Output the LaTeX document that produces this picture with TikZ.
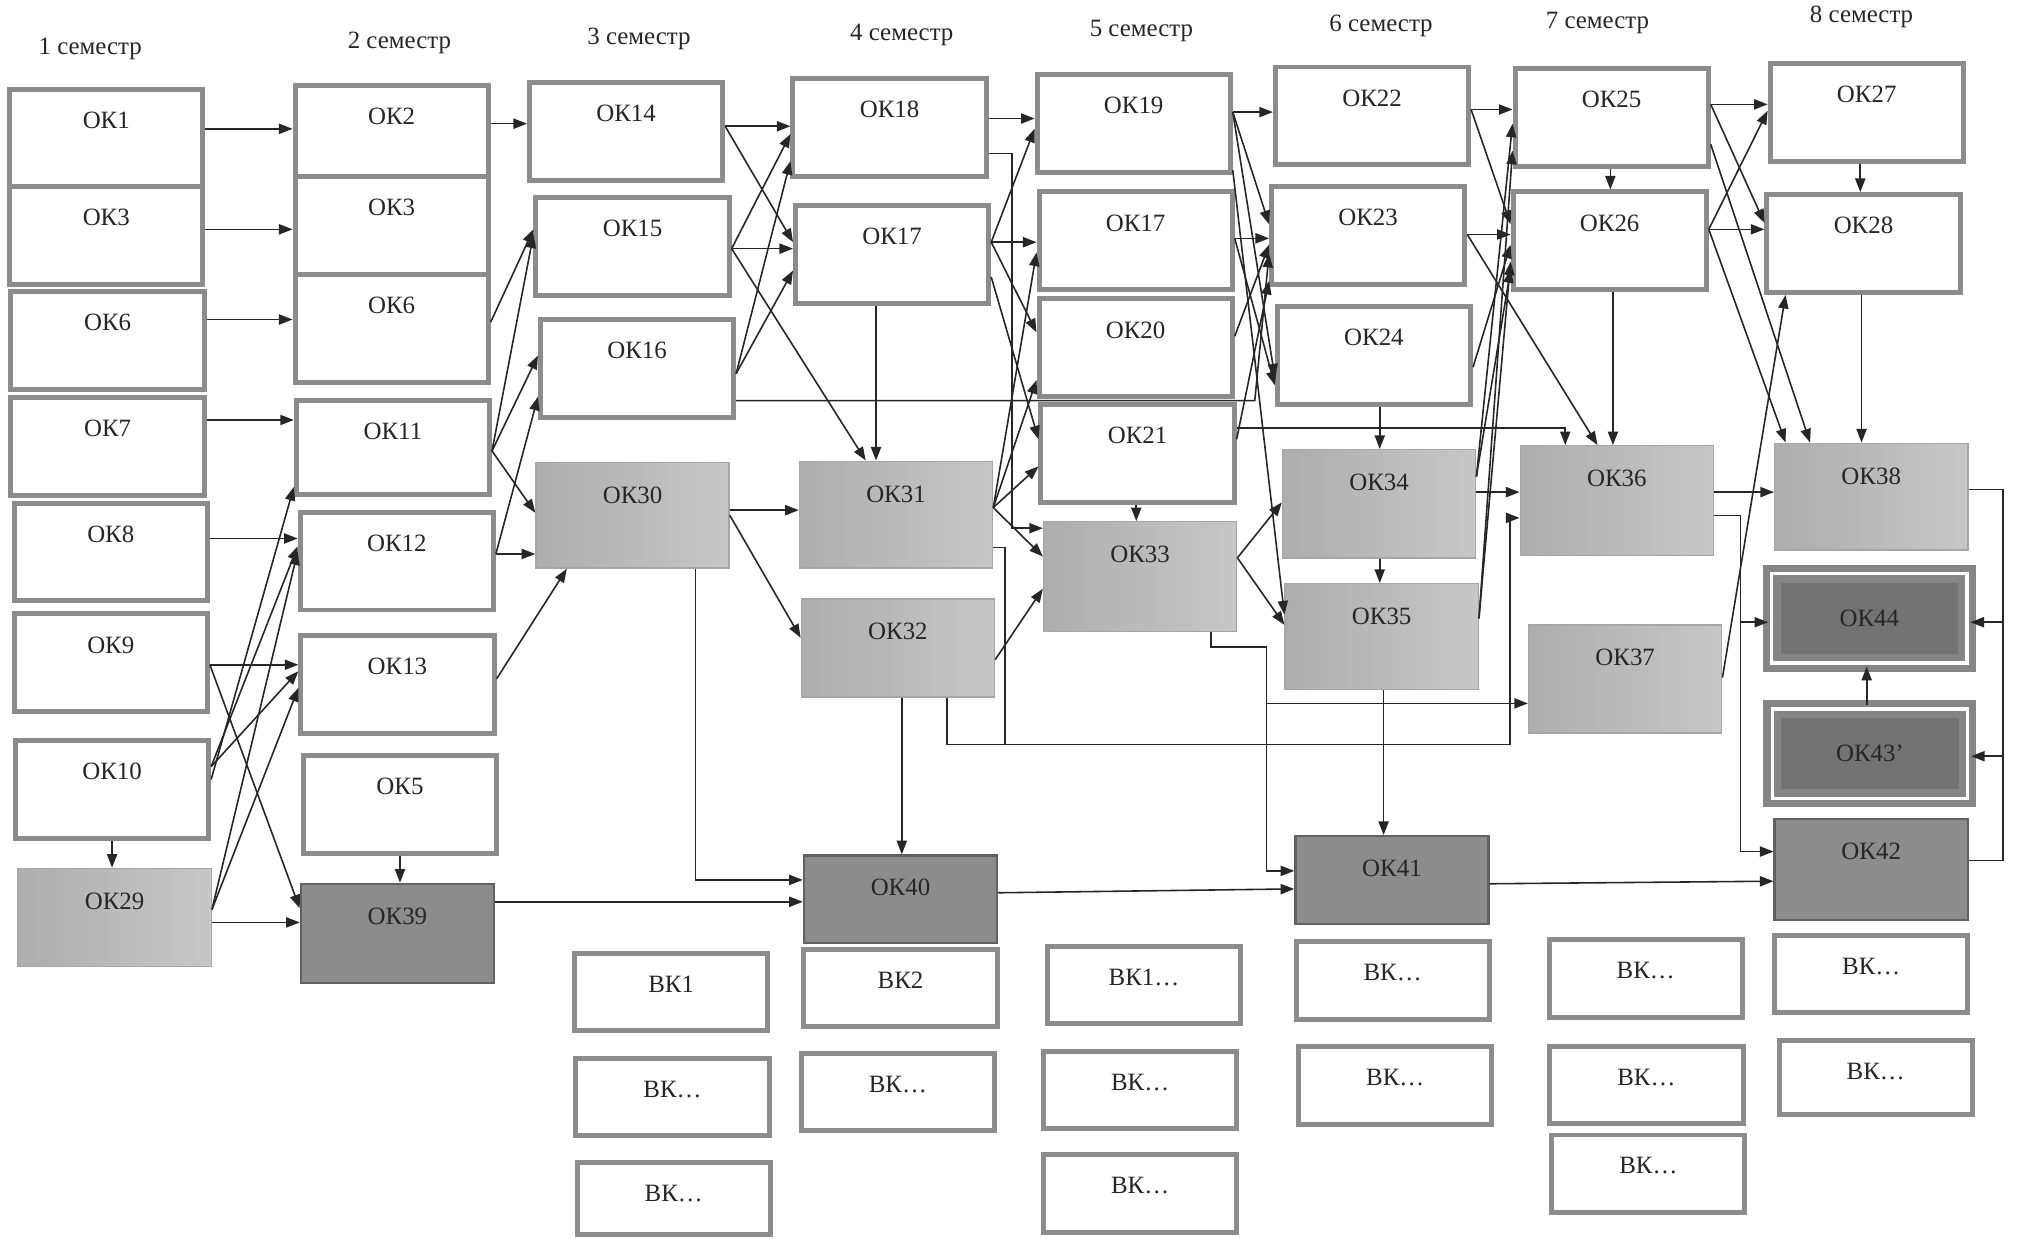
\documentclass[tikz,border=0pt]{standalone}
\usepackage{fontspec}
\setmainfont{Liberation Serif}
\usetikzlibrary{arrows.meta}

\begin{document}
\begin{tikzpicture}[x=0.02cm, y=-0.02cm,
	box/.style={draw=black!45, line width=2.2pt, fill=white, minimum width=3cm, minimum height=1.52cm, inner sep=0pt},
	bk/.style={box, minimum height=1.2cm},
	light/.style={draw=black!35, line width=0.6pt, left color=black!32, middle color=black!13, right color=black!22, minimum width=3cm, minimum height=1.66cm, inner sep=0pt},
	dark/.style={draw=black!62, line width=1pt, fill=black!45, minimum width=3cm, minimum height=1.4cm, inner sep=0pt},
	dbl/.style={draw=black!48, fill=black!55, line width=3.2pt, double=white, double distance=1.5pt, minimum width=3.03cm, minimum height=1.39cm, inner sep=0pt},
	lab/.style={label={[anchor=center, yshift=-0.52cm]north:#1}},
	labc/.style={label={[anchor=center]center:#1}},
	every label/.style={font=\fontsize{11}{13}\selectfont, text=black!85, inner sep=0pt},
	sem/.style={font=\fontsize{11}{13}\selectfont, text=black!85},
	arr/.style={draw=black!85, line width=0.7pt, -{Triangle[length=6pt,width=4.5pt]}},
	ln/.style={draw=black!85, line width=0.7pt}]
	\useasboundingbox (0,0) rectangle (1568,961);
	\fill[white] (0,0) rectangle (1568,961);

	\node[sem] (s1) at (70,38) {1 семестр};
	\node[sem] (s2) at (310,33) {2 семестр};
	\node[sem] (s3) at (496,30) {3 семестр};
	\node[sem] (s4) at (700,27) {4 семестр};
	\node[sem] (s5) at (886,24) {5 семестр};
	\node[sem] (s6) at (1072,20) {6 семестр};
	\node[sem] (s7) at (1240,18) {7 семестр};
	\node[sem] (s8) at (1445,13) {8 семестр};

	\node[box, lab=ОК1] (ok1a) at (82.5,107.5) {};
	\node[box, lab=ОК3] (ok3a) at (82.5,182.5) {};
	\node[box, lab=ОК6] (ok6a) at (83.5,264.5) {};
	\node[box, lab=ОК7] (ok7a) at (83.5,346.5) {};
	\node[box, lab=ОК8] (ok8a) at (86,428.5) {};
	\node[box, lab=ОК9] (ok9) at (86,514.5) {};
	\node[box, lab=ОК10] (ok10) at (87,612.5) {};
	\node[light, minimum height=1.52cm, lab=ОК29] (ok29) at (89,712) {};

	\node[box, minimum height=1.42cm, lab=ОК2] (ok2) at (304,101.5) {};
	\node[box, lab=ОК3] (ok3b) at (304,175) {};
	\node[box, minimum height=1.68cm, lab=ОК6] (ok6b) at (304,255) {};
	\node[box, minimum height=1.46cm, lab=ОК11] (ok11) at (305,347.5) {};
	\node[box, lab=ОК12] (ok12) at (308,435.5) {};
	\node[box, lab=ОК13] (ok13) at (308.5,531.5) {};
	\node[box, lab=ОК5] (ok5) at (310.5,624.5) {};
	\node[dark, minimum height=1.54cm, lab=ОК39] (ok39) at (308.5,724.5) {};

	\node[box, lab=ОК14] (ok14) at (486,102) {};
	\node[box, lab=ОК15] (ok15) at (491,191.5) {};
	\node[box, lab=ОК16] (ok16) at (494.5,286) {};
	\node[light, minimum height=1.64cm, lab=ОК30] (ok30) at (491,400) {};
	\node[bk, lab=ВК1] (bk1) at (521,770) {};
	\node[bk, lab=ВК…] (bk3b) at (522,851.5) {};
	\node[bk, minimum height=1.12cm, lab=ВК…] (bk3c) at (523,930) {};

	\node[box, lab=ОК18] (ok18) at (690.5,99) {};
	\node[box, lab=ОК17] (ok17) at (692.5,197.5) {};
	\node[light, lab=ОК31] (ok31) at (695.5,399.5) {};
	\node[light, minimum height=1.52cm, lab=ОК32] (ok32) at (697,503) {};
	\node[dark, minimum height=1.36cm, lab=ОК40] (ok40) at (699,698) {};
	\node[bk, lab=ВК2] (bk2) at (699,767) {};
	\node[bk, lab=ВК…] (bk4b) at (697,847.5) {};

	\node[box, lab=ОК19] (ok19) at (880,96) {};
	\node[box, lab=ОК17] (ok17c) at (881.5,187) {};
	\node[box, lab=ОК20] (ok20) at (881.5,270) {};
	\node[box, lab=ОК21] (ok21) at (883,352) {};
	\node[light, minimum height=1.7cm, lab=ОК33] (ok33) at (885,447.5) {};
	\node[bk, lab=ВК1…] (bk5a) at (888,764.5) {};
	\node[bk, lab=ВК…] (bk5b) at (885,846) {};
	\node[bk, lab=ВК…] (bk5c) at (885,926.5) {};

	\node[box, lab=ОК22] (ok22) at (1065,90) {};
	\node[box, lab=ОК23] (ok23) at (1062,183) {};
	\node[box, lab=ОК24] (ok24) at (1066.5,276) {};
	\node[light, minimum height=1.68cm, lab=ОК34] (ok34) at (1070.5,391) {};
	\node[light, minimum height=1.64cm, lab=ОК35] (ok35) at (1072.5,494) {};
	\node[dark, minimum height=1.36cm, lab=ОК41] (ok41) at (1080.5,683) {};
	\node[bk, lab=ВК…] (bk6a) at (1081,761) {};
	\node[bk, lab=ВК…] (bk6b) at (1083,842.5) {};

	\node[box, lab=ОК25] (ok25) at (1251,91) {};
	\node[box, lab=ОК26] (ok26) at (1249.5,187) {};
	\node[light, minimum height=1.7cm, lab=ОК36] (ok36) at (1255,388.5) {};
	\node[light, minimum height=1.68cm, lab=ОК37] (ok37) at (1261.5,527) {};
	\node[bk, lab=ВК…] (bk7a) at (1277.5,759.5) {};
	\node[bk, lab=ВК…] (bk7b) at (1278,842) {};
	\node[bk, lab=ВК…] (bk7c) at (1279.5,911) {};

	\node[box, lab=ОК27] (ok27) at (1449,87) {};
	\node[box, lab=ОК28] (ok28) at (1446.5,189) {};
	\node[light, lab=ОК38] (ok38) at (1452.5,385.5) {};
	\node[dbl, labc=ОК44] (ok44) at (1451,480) {};
	\node[dbl, labc=ОК43'] (ok43) at (1451.5,585) {};
	\node[dark, minimum height=1.56cm, lab=ОК42] (ok42) at (1452.5,675) {};
	\node[bk, lab=ВК…] (bk8a) at (1452.5,756) {};
	\node[bk, minimum height=1.14cm, lab=ВК…] (bk8b) at (1456,836.5) {};

	\coordinate (c16) at (974,311);
	\coordinate (b32) at (780,578);
	\coordinate (j33) at (983,546);
	\coordinate (j36) at (1351,400);
	\coordinate (r38) at (1555,380);
	\coordinate (r42) at (1555,668);

	\draw[arr] (ok1a.east |- 0,100) -- (ok2.west |- 0,100);
	\draw[arr] (ok3a.east |- 0,178) -- (ok3b.west |- 0,178);
	\draw[arr] (ok6a.east |- 0,248) -- (ok6b.west |- 0,248);
	\draw[arr] (ok7a.east |- 0,326) -- (ok11.west |- 0,326);
	\draw[arr] (ok8a.east |- 0,418) -- (ok12.west |- 0,418);
	\draw[arr] (ok9.east |- 0,516) -- (ok13.west |- 0,516);
	\draw[arr] (ok9.east |- 0,516) -- (ok39.west |- 0,705);
	\draw[arr] (ok10.east |- 0,605) -- (ok11.west |- 0,378);
	\draw[arr] (ok10.east |- 0,595) -- (ok12.west |- 0,424);
	\draw[arr] (ok10.east |- 0,595) -- (ok13.west |- 0,521);
	\draw[arr] (ok29.east |- 0,706) -- (ok12.west |- 0,428);
	\draw[arr] (ok29.east |- 0,706) -- (ok13.west |- 0,534);
	\draw[arr] (ok29.east |- 0,716) -- (ok39.west |- 0,716);
	\draw[arr] (ok10.south) -- (ok10.south |- ok29.north);
	\draw[arr] (ok5.south) -- (ok5.south |- ok39.north);

	\draw[arr] (ok2.east |- 0,96) -- (ok14.west |- 0,96);
	\draw[arr] (ok6b.east |- 0,250) -- (ok15.west |- 0,178);
	\draw[arr] (ok11.east |- 0,350) -- (ok15.west |- 0,182);
	\draw[arr] (ok11.east |- 0,350) -- (ok16.west |- 0,276);
	\draw[arr] (ok11.east |- 0,350) -- (ok30.west |- 0,398);
	\draw[arr] (ok12.east |- 0,430) -- (ok16.west |- 0,308);
	\draw[arr] (ok12.east |- 0,430) -- (ok30.west |- 0,430);
	\draw[arr] (ok13.east |- 0,527) -- (ok30.south -| 440,0);

	\draw[arr] (ok14.east |- 0,98) -- (ok18.west |- 0,98);
	\draw[arr] (ok14.east |- 0,98) -- (ok17.west |- 0,188);
	\draw[arr] (ok15.east |- 0,193) -- (ok18.west |- 0,104);
	\draw[arr] (ok15.east |- 0,193) -- (ok17.west |- 0,193);
	\draw[arr] (ok15.east |- 0,193) -- (ok31.north -| 672,0);
	\draw[arr] (ok16.east |- 0,290) -- (ok18.west |- 0,125);
	\draw[arr] (ok16.east |- 0,290) -- (ok17.west |- 0,210);
	\draw[arr] (ok16.east |- c16) -- (c16) -- (ok23.west |- 0,197);
	\draw[arr] (ok17.south -| 680,0) -- (ok31.north -| 680,0);
	\draw[arr] (ok30.east |- 0,396) -- (ok31.west |- 0,396);
	\draw[arr] (ok30.east |- 0,400) -- (ok32.west |- 0,495);
	\draw[arr] (ok30.south -| 540,0) |- (ok40.west |- 0,683);

	\draw[arr] (ok18.east |- 0,92) -- (ok19.west |- 0,92);
	\draw[arr] (ok18.east |- 0,119) -- ++(18,0) |- (ok33.west |- 0,410);
	\draw[arr] (ok17.east |- 0,188) -- (ok19.west |- 0,100);
	\draw[arr] (ok17.east |- 0,188) -- (ok17c.west |- 0,188);
	\draw[arr] (ok17.east |- 0,188) -- (ok20.west |- 0,258);
	\draw[arr] (ok17.east |- 0,215) -- (ok21.west |- 0,341);
	\draw[arr] (ok31.east |- 0,394) -- (ok17c.west |- 0,196);
	\draw[arr] (ok31.east |- 0,394) -- (ok20.west |- 0,295);
	\draw[arr] (ok31.east |- 0,394) -- (ok21.west |- 0,362);
	\draw[arr] (ok31.east |- 0,394) -- (ok33.west |- 0,432);
	\draw[arr] (ok32.east |- 0,512) -- (ok33.west |- 0,457);
	\draw[ln] (ok31.east |- 0,425) -| (b32);
	\draw[arr] (ok32.south -| 735,0) |- (1172,578) |- (ok36.west |- 0,402);
	\draw[arr] (ok32.south -| 700,0) -- (ok40.north -| 700,0);
	\draw[arr] (ok21.south -| 882,0) -- (ok33.north -| 882,0);
	\draw[arr] (ok39.east |- 0,700) -- (ok40.west |- 0,700);
	\draw[arr] (ok40.east |- 0,693) -- (ok41.west |- 0,690);

	\draw[arr] (ok19.east |- 0,87) -- (ok22.west |- 0,87);
	\draw[arr] (ok19.east |- 0,87) -- (ok23.west |- 0,174);
	\draw[arr] (ok19.east |- 0,87) -- (ok24.west |- 0,293);
	\draw[arr] (ok19.east |- 0,132) -- (ok35.west |- 0,477);
	\draw[arr] (ok17c.east |- 0,185) -- (ok23.west |- 0,185);
	\draw[arr] (ok17c.east |- 0,185) -- (ok24.west |- 0,299);
	\draw[arr] (ok20.east |- 0,261) -- (ok23.west |- 0,190);
	\draw[arr] (ok21.east |- 0,341) -- (ok23.west |- 0,218);
	\draw[arr] (ok21.east |- 0,332) -| (ok36.north -| 1215,0);
	\draw[arr] (ok33.east |- 0,433) -- (ok34.west |- 0,390);
	\draw[arr] (ok33.east |- 0,433) -- (ok35.west |- 0,485);
	\draw[arr] (ok33.south -| 940,0) |- (983,502) |- (ok41.west |- 0,676);
	\draw[arr] (j33) -- (ok37.west |- j33);
	\draw[arr] (ok24.south -| 1071,0) -- (ok34.north -| 1071,0);
	\draw[arr] (ok34.south -| 1071,0) -- (ok35.north -| 1071,0);
	\draw[arr] (ok35.south -| 1074,0) -- (ok41.north -| 1074,0);

	\draw[arr] (ok22.east |- 0,85) -- (ok25.west |- 0,85);
	\draw[arr] (ok22.east |- 0,85) -- (ok26.west |- 0,174);
	\draw[arr] (ok23.east |- 0,182) -- (ok26.west |- 0,182);
	\draw[arr] (ok23.east |- 0,182) -- (ok36.north -| 1240,0);
	\draw[arr] (ok24.east |- 0,285) -- (ok26.west |- 0,190);
	\draw[arr] (ok34.east |- 0,370) -- (ok25.west |- 0,96);
	\draw[arr] (ok34.east |- 0,370) -- (ok26.west |- 0,209);
	\draw[arr] (ok35.east |- 0,480) -- (ok25.west |- 0,117);
	\draw[arr] (ok35.east |- 0,480) -- (ok26.west |- 0,203);
	\draw[arr] (ok34.east |- 0,382) -- (ok36.west |- 0,382);
	\draw[arr] (ok25.south -| 1250,0) -- (ok26.north -| 1250,0);
	\draw[arr] (ok26.south -| 1252,0) -- (ok36.north -| 1252,0);

	\draw[arr] (ok25.east |- 0,81) -- (ok27.west |- 0,81);
	\draw[arr] (ok25.east |- 0,81) -- (ok28.west |- 0,173);
	\draw[arr] (ok25.east |- 0,112) -- (ok38.north -| 1405,0);
	\draw[arr] (ok26.east |- 0,178) -- (ok27.west |- 0,86);
	\draw[arr] (ok26.east |- 0,178) -- (ok28.west |- 0,178);
	\draw[arr] (ok26.east |- 0,178) -- (ok38.north -| 1386,0);
	\draw[arr] (ok27.south -| 1444,0) -- (ok28.north -| 1444,0);
	\draw[arr] (ok28.south -| 1445,0) -- (ok38.north -| 1445,0);
	\draw[arr] (ok36.east |- 0,382) -- (ok38.west |- 0,382);
	\draw[arr] (ok37.east |- 0,526) -- (ok28.south -| 1386,0);
	\draw[arr] (ok36.east |- j36) -- (j36) |- (ok42.west |- 0,661);
	\draw[arr] (j36 |- 0,483) -- (ok44.west |- 0,483);
	\draw[ln] (ok38.east |- r38) -- (r38) -- (r42) -- (ok42.east |- r42);
	\draw[arr] (r38 |- 0,483) -- (ok44.east |- 0,483);
	\draw[arr] (r38 |- 0,587) -- (ok43.east |- 0,587);
	\draw[arr] (ok43.north -| 1449,0) -- (ok44.south -| 1449,0);
	\draw[arr] (ok41.east |- 0,686) -- (ok42.west |- 0,684);
\end{tikzpicture}
\end{document}
